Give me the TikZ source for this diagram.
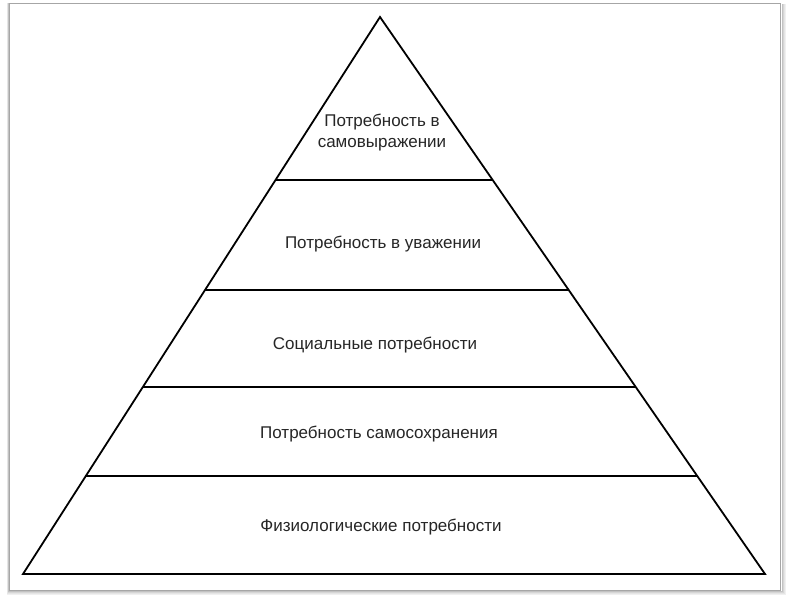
\documentclass[tikz,border=0pt]{standalone}
\usepackage{fontspec}
\setmainfont{Liberation Sans}
\begin{document}
\begin{tikzpicture}[x=1pt,y=-1pt,
  lvl/.style={draw=black,line width=1.8pt},
  lbl/.style={font=\fontsize{17}{21}\selectfont,text=black!85,align=center,inner sep=0pt}]
\useasboundingbox (0,0) rectangle (787,598);
\fill[white] (0,0) rectangle (787,598);
% frame with soft shadow
\foreach \i/\c in {4/black!6,3/black!10,2/black!16,1/black!24}{
  \draw[\c,line width=1pt] (9-\i*0.5,3) -- (9-\i*0.5,590+\i) -- (781+\i,590+\i) -- (781+\i,4);
}
\draw[black!35,line width=0.8pt] (9,3) rectangle (780,590);
\coordinate (A) at (380,17);
\coordinate (L) at (23,574);
\coordinate (R) at (765,574);
\draw[lvl,line join=miter] (A) -- (L) -- (R) -- cycle;
\foreach \y in {180,290,387,476}{
  \path (A) -- (L) coordinate[pos={(\y-17)/557}] (l\y);
  \path (A) -- (R) coordinate[pos={(\y-17)/557}] (r\y);
  \draw[lvl] (l\y) -- (r\y);
}
\node[lbl] (t1) at (382,133) {Потребность в\\самовыражении};
\node[lbl] (t2) at (383,244) {Потребность в уважении};
\node[lbl] (t3) at (375,345) {Социальные потребности};
\node[lbl] (t4) at (379,434) {Потребность самосохранения};
\node[lbl] (t5) at (381,527) {Физиологические потребности};
\end{tikzpicture}
\end{document}
